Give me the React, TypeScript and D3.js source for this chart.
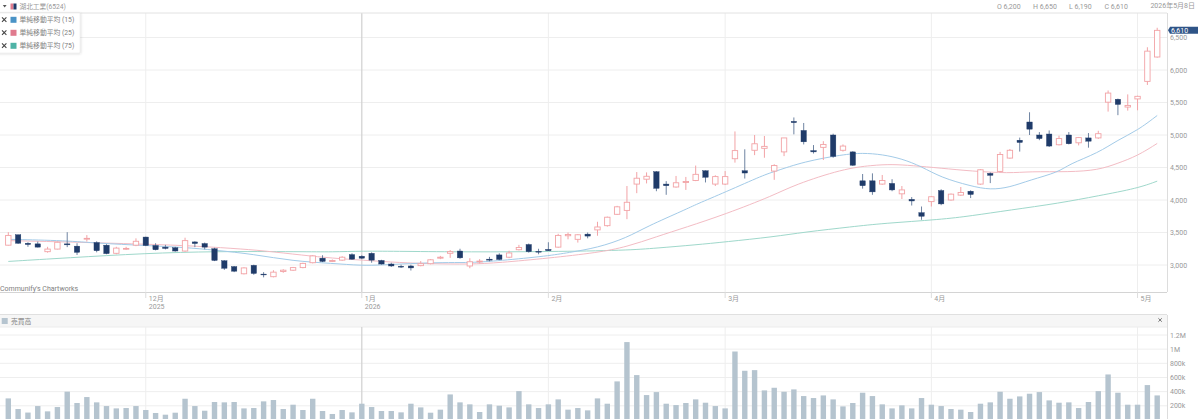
import React from "react";
import * as d3 from "d3";

const W = 1200;
const H = 419;

const opens = [3305,3465,3335,3325,3205,3245,3325,3290,3405,3345,3305,3180,3245,3305,3430,3300,3275,3265,3215,3355,3330,3250,3065,2975,2865,2995,2860,2820,2900,2920,2960,3035,3105,3055,3075,3160,3135,3180,3070,3015,2980,2985,2990,3020,3105,3180,3215,2985,3055,3090,3155,3120,3235,3315,3210,3240,3275,3450,3395,3475,3540,3605,3780,3840,4245,4320,4435,4245,4200,4270,4300,4450,4245,4245,4635,4450,4765,4795,4445,4740,5210,5070,4760,4810,5000,4765,4740,4295,4295,4245,4255,4095,4010,3805,3975,4145,4000,4075,4135,4245,4410,4440,4645,4920,5200,5000,5015,4850,5000,4880,4955,4955,5505,5550,5430,5555,5825,6200];
const closes = [3455,3335,3315,3275,3245,3350,3310,3195,3410,3220,3175,3260,3255,3365,3300,3235,3255,3215,3375,3330,3275,3070,2950,2905,2955,2870,2850,2890,2920,2960,3025,3140,3055,3070,3120,3090,3105,3075,3015,2985,2970,2955,3020,3080,3120,3205,3110,3050,3060,3075,3085,3185,3270,3205,3205,3220,3455,3470,3465,3445,3585,3735,3895,3965,4335,4365,4180,4220,4265,4285,4395,4350,4360,4360,4760,4415,4865,4825,4530,4955,5190,4895,4740,4855,4670,4830,4535,4220,4125,4300,4155,4155,3985,3750,4050,3940,4090,4115,4085,4465,4380,4700,4765,4885,5090,4945,4830,4945,4865,4960,4905,5020,5645,5470,5455,5595,6290,6610];
const highs = [3505,3465,3350,3360,3280,3360,3505,3335,3460,3365,3320,3280,3280,3410,3435,3335,3310,3280,3420,3365,3345,3265,3075,2985,2965,3005,2890,2920,2935,2970,3035,3150,3150,3085,3135,3180,3150,3195,3080,3035,3005,3005,3060,3090,3140,3230,3250,3105,3090,3125,3180,3220,3310,3330,3250,3350,3480,3500,3475,3500,3665,3745,3910,4215,4430,4425,4445,4290,4370,4355,4530,4455,4380,4445,5055,4780,5000,4985,4550,4955,5270,5185,4845,4905,5020,4855,4750,4400,4410,4385,4320,4215,4045,3900,4060,4165,4100,4200,4150,4475,4425,4740,4785,4960,5350,5045,5070,4990,5045,4970,5030,5065,5685,5560,5625,5605,6350,6650];
const lows = [3300,3325,3280,3270,3190,3240,3275,3155,3360,3195,3165,3165,3230,3290,3290,3225,3240,3205,3205,3275,3240,3060,2925,2890,2855,2850,2810,2810,2880,2910,2950,3025,3045,3045,3065,3080,3090,3035,3005,2970,2955,2915,2980,3010,3090,3110,3095,2950,3025,3055,3075,3105,3225,3190,3165,3215,3265,3395,3345,3410,3450,3590,3770,3705,4105,4255,4135,4080,4190,4155,4290,4270,4215,4230,4575,4330,4690,4650,4310,4675,5010,4855,4715,4615,4650,4745,4525,4175,4080,4235,4135,4015,3915,3695,3900,3920,3990,4065,4030,4235,4260,4430,4635,4745,5000,4920,4815,4840,4855,4840,4805,4940,5360,5305,5375,5380,5770,6190];
const volumes = [305,155,105,197,122,183,400,240,324,249,197,164,169,197,141,99,75,103,300,197,131,254,249,254,164,169,263,282,155,216,141,300,127,85,141,108,230,183,127,127,108,230,178,103,146,361,249,221,113,221,202,178,408,221,169,221,291,146,169,136,305,230,545,1100,634,352,394,230,211,240,291,244,197,164,967,695,704,418,455,399,432,338,310,347,291,192,240,385,338,221,164,207,164,310,216,197,155,146,113,230,249,399,300,333,371,394,277,244,249,169,254,408,643,385,216,216,493,347];

const ma15Days = [0,6,9,14,18,21,25,29,33,36,38,42,45,47,50,55,57,60,63,65,69,70,73,77,78,81,85,87,89,91,93,95,98,100,102,104,107,108,111,113,115,117];
const ma15Values = [3395,3375,3335,3300,3270,3230,3165,3060,3025,2990,3000,3030,3040,3035,3065,3140,3190,3265,3420,3590,3855,3930,4120,4390,4435,4590,4700,4725,4700,4635,4515,4345,4215,4155,4195,4305,4430,4550,4725,4925,5070,5300];
const ma25Days = [0,6,14,18,23,26,30,33,36,40,43,47,50,55,60,63,66,69,73,78,80,85,88,90,92,95,98,102,104,108,111,113,115,117];
const ma25Values = [3375,3355,3320,3300,3255,3220,3150,3105,3075,3035,3020,3010,3035,3105,3190,3280,3435,3580,3780,4075,4230,4480,4535,4550,4530,4490,4445,4410,4440,4430,4460,4565,4680,4870];
const ma75Days = [0,6,14,21,30,33,36,40,47,55,63,66,70,73,78,81,86,89,95,98,102,107,111,115,117];
const ma75Values = [3055,3110,3180,3210,3205,3200,3215,3210,3200,3205,3225,3260,3310,3355,3435,3505,3590,3640,3700,3755,3845,3950,4065,4180,4290];

const priceTicks = [3000,3500,4000,4500,5000,5500,6000,6500];
const volumeTicks = [200,400,600,800,1000,1200];
const volumeTickLabels = ["200k","400k","600k","800k","1M","1.2M"];
const monthDays = [14,36,55,73,94,115];
const monthLabels = ["12月","1月","2月","3月","4月","5月"];
const yearLabels = ["2025","2026","","","",""];
const legendNames = ["単純移動平均 (15)","単純移動平均 (25)","単純移動平均 (75)"];
const legendColors = ["#4a93c6","#e07b8e","#4fb3a6"];
const quoteLabels = ["O 6,200","H 6,650","L 6,190","C 6,610"];
const quoteX = [997,1033,1069,1104.5];
const crosshairDay = 36;

const FONT = "Roboto, 'Noto Sans CJK JP', sans-serif";
const TEXT = "#999999";
const GRID = "#eeeeee";
const UP = "#f2a3a6";
const DOWN = "#1f3b69";
const DOWN_WICK = "#6f84a2";

export default function App() {
  const x = d3.scaleLinear().domain([0, opens.length - 1]).range([8.3, 1157.2]);
  const y = d3.scaleLinear().domain([3000, 6500]).range([265, 37.5]);
  const v = d3.scaleLinear().domain([0, 1200]).range([420, 335]);

  const line = (days: number[], values: number[]) =>
    d3.line<number>()
      .x((d) => x(d))
      .y((_, i) => y(values[i]))
      .curve(d3.curveBasis)(days) as string;

  const bodyW = 5.4;
  const barW = 5.4;

  return (
    <svg width={W} height={H} viewBox={`0 0 ${W} ${H}`} fontFamily={FONT}
      style={{ position: "absolute", left: 0, top: 0, display: "block", background: "#fff" }}>
      <defs>
        <filter id="ls" x="-10%" y="-10%" width="125%" height="125%">
          <feDropShadow dx="0.5" dy="0.5" stdDeviation="0.8" floodColor="#000" floodOpacity="0.18" />
        </filter>
        <clipPath id="vclip"><rect x={0} y={327} width={1167} height={92} /></clipPath>
      </defs>

      {priceTicks.map((t) => (
        <line key={t} x1={0} x2={1167} y1={y(t)} y2={y(t)} stroke={GRID} strokeWidth={1} />
      ))}
      {monthDays.map((d) => (
        <line key={d} x1={x(d)} x2={x(d)} y1={13} y2={292} stroke={GRID} strokeWidth={1} />
      ))}
      <line x1={x(crosshairDay)} x2={x(crosshairDay)} y1={13} y2={292} stroke="#c4c4c4" strokeWidth={0.8} />
      <line x1={0} x2={1167} y1={13} y2={13} stroke="#e2e2e2" strokeWidth={1} />
      <line x1={0} x2={1167} y1={292.5} y2={292.5} stroke="#d4d4d4" strokeWidth={1} />
      <line x1={1167.5} x2={1167.5} y1={13} y2={292} stroke="#dddddd" strokeWidth={1} />

      <path d={line(ma75Days, ma75Values)} fill="none" stroke="#9fd8cb" strokeWidth={1} />
      <path d={line(ma25Days, ma25Values)} fill="none" stroke="#f3bcc4" strokeWidth={1} />
      <path d={line(ma15Days, ma15Values)} fill="none" stroke="#a3cbe8" strokeWidth={1} />

      {opens.map((o, i) => {
        const c = closes[i];
        const up = c >= o;
        const top = y(Math.max(o, c));
        const bottom = y(Math.min(o, c));
        const cx = x(i);
        return (
          <g key={i}>
            <line x1={cx} x2={cx} y1={y(highs[i])} y2={y(lows[i])} stroke={up ? UP : DOWN_WICK} strokeWidth={1} />
            <rect x={cx - bodyW / 2} y={top} width={bodyW} height={Math.max(bottom - top, 0.8)}
              fill={up ? "#fff" : DOWN} stroke={up ? UP : DOWN} strokeWidth={up ? 0.9 : 0.4} />
          </g>
        );
      })}

      <path d="M2.8 5 L6.6 5 L4.7 7.4 Z" fill="#555" />
      <rect x={10.5} y={3.5} width={3} height={6} fill="#e07b8e" />
      <rect x={13.5} y={3.5} width={3} height={6} fill="#1f3b69" />
      <text x={19.5} y={9} fontSize={6.7} fill={TEXT}>湖北工業(6524)</text>
      {quoteLabels.map((q, i) => (
        <text key={q} x={quoteX[i]} y={9} fontSize={7} fill={TEXT}>{q}</text>
      ))}
      <text x={1195} y={8} fontSize={7} fill={TEXT} textAnchor="end">2026年5月8日</text>

      <rect x={-2} y={13} width={82} height={40} fill="#fff" stroke="#e4e4e4" strokeWidth={0.5} filter="url(#ls)" />
      {legendNames.map((n, i) => {
        const ly = 19.8 + i * 13;
        return (
          <g key={n}>
            <path d={`M2 ${ly - 2.4} L6.4 ${ly + 2} M6.4 ${ly - 2.4} L2 ${ly + 2}`} stroke="#444" strokeWidth={1.1} />
            <rect x={10.5} y={ly - 3} width={6} height={6} fill={legendColors[i]} />
            <text x={19.5} y={ly + 2.4} fontSize={6.8} fill="#808080">{n}</text>
          </g>
        );
      })}

      {priceTicks.map((t) => (
        <text key={t} x={1170} y={y(t) + 2.5} fontSize={7} fill={TEXT}>{d3.format(",")(t)}</text>
      ))}
      <path d={`M1168 ${y(6610)} L1170 ${y(6610) - 3.5} H1198 V${y(6610) + 3.5} H1170 Z`} fill="#2f5487" />
      <text x={1171} y={y(6610) + 2.5} fontSize={7} fill="#fff">6,610</text>

      {monthDays.map((d, i) => (
        <g key={d}>
          <line x1={x(d)} x2={x(d)} y1={292} y2={298} stroke="#dddddd" strokeWidth={1} />
          <text x={x(d) + 3} y={300.5} fontSize={7} fill={TEXT}>{monthLabels[i]}</text>
          {yearLabels[i] && <text x={x(d) + 3} y={308.5} fontSize={7} fill={TEXT}>{yearLabels[i]}</text>}
        </g>
      ))}
      <text x={0} y={291} fontSize={7} fill="#808080">Communify's Chartworks</text>

      <rect x={0} y={315} width={1167} height={12} fill="#f6f6f6" />
      <line x1={0} x2={1167} y1={314.5} y2={314.5} stroke="#e0e0e0" strokeWidth={1} />
      <line x1={0} x2={1167} y1={327} y2={327} stroke="#ececec" strokeWidth={1} />
      <rect x={1.7} y={318} width={6} height={6} fill="#b5c4cf" />
      <text x={11} y={323.5} fontSize={6.8} fill="#808080">売買高</text>
      <path d="M1158.4 318.3 L1161.8 321.7 M1161.8 318.3 L1158.4 321.7" stroke="#666" strokeWidth={0.9} />

      <line x1={1167.5} x2={1167.5} y1={315} y2={419} stroke="#dddddd" strokeWidth={1} />
      {volumeTicks.map((t, i) => (
        <g key={t}>
          <line x1={0} x2={1167} y1={v(t)} y2={v(t)} stroke={GRID} strokeWidth={1} />
          <text x={1170} y={v(t) + 2.5} fontSize={7} fill={TEXT}>{volumeTickLabels[i]}</text>
        </g>
      ))}
      {monthDays.map((d) => (
        <line key={d} x1={x(d)} x2={x(d)} y1={327} y2={419} stroke={GRID} strokeWidth={1} />
      ))}
      <line x1={x(crosshairDay)} x2={x(crosshairDay)} y1={327} y2={419} stroke="#c4c4c4" strokeWidth={0.8} />
      <g clipPath="url(#vclip)">
        {volumes.map((d, i) => (
          <rect key={i} x={x(i) - barW / 2} y={v(d)} width={barW} height={v(0) - v(d)} fill="#b5c4cf" />
        ))}
      </g>
    </svg>
  );
}
